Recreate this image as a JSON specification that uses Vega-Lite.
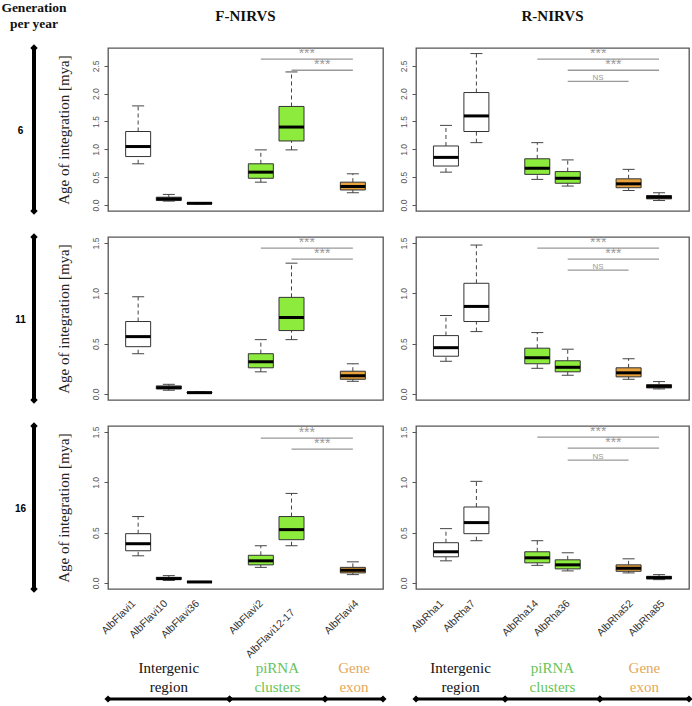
{
"$schema": "https://vega.github.io/schema/vega-lite/v6.json",
"background": "white",
"padding": {"left": 1, "top": 0, "right": 0, "bottom": 0},
"bounds": "flush",
"spacing": 100,
"datasets": {
"boxes": [
{"gen":6,"type":"F","name":"AlbFlavi1","grp":"Intergenic region","pos":1,"lo":0.74,"q1":0.87,"med":1.05,"q3":1.32,"hi":1.78},
{"gen":6,"type":"F","name":"AlbFlavi10","grp":"Intergenic region","pos":2,"lo":0.07,"q1":0.08,"med":0.11,"q3":0.14,"hi":0.19},
{"gen":6,"type":"F","name":"AlbFlavi36","grp":"Intergenic region","pos":3,"lo":0.02,"q1":0.025,"med":0.03,"q3":0.04,"hi":0.045},
{"gen":6,"type":"F","name":"AlbFlavi2","grp":"piRNA clusters","pos":5,"lo":0.41,"q1":0.48,"med":0.59,"q3":0.74,"hi":0.99},
{"gen":6,"type":"F","name":"AlbFlavi12-17","grp":"piRNA clusters","pos":6,"lo":0.99,"q1":1.15,"med":1.4,"q3":1.77,"hi":2.39},
{"gen":6,"type":"F","name":"AlbFlavi4","grp":"Gene exon","pos":8,"lo":0.22,"q1":0.27,"med":0.33,"q3":0.41,"hi":0.56},
{"gen":6,"type":"R","name":"AlbRha1","grp":"Intergenic region","pos":1,"lo":0.59,"q1":0.7,"med":0.855,"q3":1.06,"hi":1.43},
{"gen":6,"type":"R","name":"AlbRha7","grp":"Intergenic region","pos":2,"lo":1.12,"q1":1.32,"med":1.6,"q3":2.02,"hi":2.72},
{"gen":6,"type":"R","name":"AlbRha14","grp":"piRNA clusters","pos":4,"lo":0.46,"q1":0.55,"med":0.66,"q3":0.83,"hi":1.12},
{"gen":6,"type":"R","name":"AlbRha36","grp":"piRNA clusters","pos":5,"lo":0.34,"q1":0.39,"med":0.48,"q3":0.6,"hi":0.81},
{"gen":6,"type":"R","name":"AlbRha52","grp":"Gene exon","pos":7,"lo":0.26,"q1":0.31,"med":0.38,"q3":0.47,"hi":0.64},
{"gen":6,"type":"R","name":"AlbRha85","grp":"Gene exon","pos":8,"lo":0.08,"q1":0.11,"med":0.14,"q3":0.17,"hi":0.22},
{"gen":11,"type":"F","name":"AlbFlavi1","grp":"Intergenic region","pos":1,"lo":0.4,"q1":0.47,"med":0.57,"q3":0.72,"hi":0.966},
{"gen":11,"type":"F","name":"AlbFlavi10","grp":"Intergenic region","pos":2,"lo":0.037,"q1":0.05,"med":0.063,"q3":0.08,"hi":0.096},
{"gen":11,"type":"F","name":"AlbFlavi36","grp":"Intergenic region","pos":3,"lo":0.008,"q1":0.01,"med":0.013,"q3":0.018,"hi":0.02},
{"gen":11,"type":"F","name":"AlbFlavi2","grp":"piRNA clusters","pos":5,"lo":0.22,"q1":0.26,"med":0.32,"q3":0.4,"hi":0.54},
{"gen":11,"type":"F","name":"AlbFlavi12-17","grp":"piRNA clusters","pos":6,"lo":0.54,"q1":0.63,"med":0.76,"q3":0.96,"hi":1.3},
{"gen":11,"type":"F","name":"AlbFlavi4","grp":"Gene exon","pos":8,"lo":0.126,"q1":0.146,"med":0.18,"q3":0.226,"hi":0.3},
{"gen":11,"type":"R","name":"AlbRha1","grp":"Intergenic region","pos":1,"lo":0.325,"q1":0.375,"med":0.46,"q3":0.58,"hi":0.78},
{"gen":11,"type":"R","name":"AlbRha7","grp":"Intergenic region","pos":2,"lo":0.62,"q1":0.72,"med":0.87,"q3":1.1,"hi":1.48},
{"gen":11,"type":"R","name":"AlbRha14","grp":"piRNA clusters","pos":4,"lo":0.255,"q1":0.3,"med":0.36,"q3":0.455,"hi":0.61},
{"gen":11,"type":"R","name":"AlbRha36","grp":"piRNA clusters","pos":5,"lo":0.186,"q1":0.22,"med":0.265,"q3":0.33,"hi":0.445},
{"gen":11,"type":"R","name":"AlbRha52","grp":"Gene exon","pos":7,"lo":0.146,"q1":0.17,"med":0.21,"q3":0.26,"hi":0.35},
{"gen":11,"type":"R","name":"AlbRha85","grp":"Gene exon","pos":8,"lo":0.05,"q1":0.06,"med":0.076,"q3":0.093,"hi":0.123},
{"gen":16,"type":"F","name":"AlbFlavi1","grp":"Intergenic region","pos":1,"lo":0.27,"q1":0.32,"med":0.39,"q3":0.49,"hi":0.66},
{"gen":16,"type":"F","name":"AlbFlavi10","grp":"Intergenic region","pos":2,"lo":0.025,"q1":0.036,"med":0.043,"q3":0.056,"hi":0.073},
{"gen":16,"type":"F","name":"AlbFlavi36","grp":"Intergenic region","pos":3,"lo":0.006,"q1":0.008,"med":0.01,"q3":0.013,"hi":0.015},
{"gen":16,"type":"F","name":"AlbFlavi2","grp":"piRNA clusters","pos":5,"lo":0.155,"q1":0.18,"med":0.22,"q3":0.275,"hi":0.37},
{"gen":16,"type":"F","name":"AlbFlavi12-17","grp":"piRNA clusters","pos":6,"lo":0.37,"q1":0.43,"med":0.53,"q3":0.66,"hi":0.89},
{"gen":16,"type":"F","name":"AlbFlavi4","grp":"Gene exon","pos":8,"lo":0.083,"q1":0.1,"med":0.126,"q3":0.155,"hi":0.21},
{"gen":16,"type":"R","name":"AlbRha1","grp":"Intergenic region","pos":1,"lo":0.22,"q1":0.26,"med":0.31,"q3":0.4,"hi":0.54},
{"gen":16,"type":"R","name":"AlbRha7","grp":"Intergenic region","pos":2,"lo":0.42,"q1":0.49,"med":0.6,"q3":0.755,"hi":1.01},
{"gen":16,"type":"R","name":"AlbRha14","grp":"piRNA clusters","pos":4,"lo":0.175,"q1":0.2,"med":0.25,"q3":0.31,"hi":0.42},
{"gen":16,"type":"R","name":"AlbRha36","grp":"piRNA clusters","pos":5,"lo":0.12,"q1":0.14,"med":0.18,"q3":0.23,"hi":0.3},
{"gen":16,"type":"R","name":"AlbRha52","grp":"Gene exon","pos":7,"lo":0.1,"q1":0.116,"med":0.146,"q3":0.18,"hi":0.24},
{"gen":16,"type":"R","name":"AlbRha85","grp":"Gene exon","pos":8,"lo":0.033,"q1":0.04,"med":0.053,"q3":0.066,"hi":0.083}
],
"sig": [
{"gen":6,"type":"F","from":5,"to":8,"level":2.62,"label":"***"},
{"gen":6,"type":"F","from":6,"to":8,"level":2.42,"label":"***"},
{"gen":6,"type":"R","from":4,"to":8,"level":2.62,"label":"***"},
{"gen":6,"type":"R","from":5,"to":8,"level":2.42,"label":"***"},
{"gen":6,"type":"R","from":5,"to":7,"level":2.22,"label":"NS"},
{"gen":11,"type":"F","from":5,"to":8,"level":1.45,"label":"***"},
{"gen":11,"type":"F","from":6,"to":8,"level":1.34,"label":"***"},
{"gen":11,"type":"R","from":4,"to":8,"level":1.45,"label":"***"},
{"gen":11,"type":"R","from":5,"to":8,"level":1.34,"label":"***"},
{"gen":11,"type":"R","from":5,"to":7,"level":1.23,"label":"NS"},
{"gen":16,"type":"F","from":5,"to":8,"level":1.44,"label":"***"},
{"gen":16,"type":"F","from":6,"to":8,"level":1.33,"label":"***"},
{"gen":16,"type":"R","from":4,"to":8,"level":1.45,"label":"***"},
{"gen":16,"type":"R","from":5,"to":8,"level":1.34,"label":"***"},
{"gen":16,"type":"R","from":5,"to":7,"level":1.22,"label":"NS"}
],
"segs": [
{"type":"F","grp":"Intergenic region","from":0.18,"to":4},
{"type":"F","grp":"piRNA clusters","from":4,"to":7},
{"type":"F","grp":"Gene exon","from":7,"to":8.82},
{"type":"R","grp":"Intergenic region","from":0.18,"to":3},
{"type":"R","grp":"piRNA clusters","from":3,"to":6},
{"type":"R","grp":"Gene exon","from":6,"to":8.82}
],
"gens": [{"gen":"6"},{"gen":"11"},{"gen":"16"}]
},
"config": {
"font": "Liberation Sans",
"view": {"stroke": "#555", "strokeWidth": 1.3},
"title": {"font": "Liberation Serif", "fontWeight": "bold", "color": "#111", "anchor": "middle"},
"axisY": {"domain": false, "grid": false, "tickSize": 4, "tickColor": "#555", "tickWidth": 1, "labelAngle": 270, "labelAlign": "center", "labelBaseline": "bottom", "labelPadding": 4, "labelFontSize": 8.5, "labelColor": "#555", "labelFlush": false, "labelOverlap": false, "titleFont": "Liberation Serif", "titleFontSize": 15, "titleFontWeight": "normal", "titleColor": "#222", "titlePadding": 20}
},
"hconcat": [
{"vconcat": [
 {"width": 52, "height": 163, "view": {"stroke": null},
  "title": {"text": ["Generation", "per year"], "fontSize": 13.5, "offset": 14, "lineHeight": 16},
  "data": {"name": "gens"}, "transform": [{"filter": "datum.gen == '6'"}],
  "layer": [
   {"mark": {"type": "rule", "strokeWidth": 4, "color": "#000"}, "encoding": {"y": {"datum": 0, "type": "quantitative", "scale": {"domain": [0, 1], "nice": false, "zero": false}, "axis": null}, "y2": {"datum": 1}}},
   {"mark": {"type": "point", "shape": "diamond", "filled": true, "size": 55, "color": "#000", "opacity": 1}, "encoding": {"y": {"datum": 0, "type": "quantitative"}}},
   {"mark": {"type": "point", "shape": "diamond", "filled": true, "size": 55, "color": "#000", "opacity": 1}, "encoding": {"y": {"datum": 1, "type": "quantitative"}}},
   {"mark": {"type": "text", "fontWeight": "bold", "fontSize": 10, "dx": -13.5, "dy": 1, "color": "#000"}, "encoding": {"text": {"field": "gen"}}}
  ]},
 {"width": 52, "height": 163, "view": {"stroke": null},
  "data": {"name": "gens"}, "transform": [{"filter": "datum.gen == '11'"}],
  "layer": [
   {"mark": {"type": "rule", "strokeWidth": 4, "color": "#000"}, "encoding": {"y": {"datum": 0, "type": "quantitative", "scale": {"domain": [0, 1], "nice": false, "zero": false}, "axis": null}, "y2": {"datum": 1}}},
   {"mark": {"type": "point", "shape": "diamond", "filled": true, "size": 55, "color": "#000", "opacity": 1}, "encoding": {"y": {"datum": 0, "type": "quantitative"}}},
   {"mark": {"type": "point", "shape": "diamond", "filled": true, "size": 55, "color": "#000", "opacity": 1}, "encoding": {"y": {"datum": 1, "type": "quantitative"}}},
   {"mark": {"type": "text", "fontWeight": "bold", "fontSize": 10, "dx": -13.5, "dy": 1, "color": "#000"}, "encoding": {"text": {"field": "gen"}}}
  ]},
 {"width": 52, "height": 163, "view": {"stroke": null},
  "data": {"name": "gens"}, "transform": [{"filter": "datum.gen == '16'"}],
  "layer": [
   {"mark": {"type": "rule", "strokeWidth": 4, "color": "#000"}, "encoding": {"y": {"datum": 0, "type": "quantitative", "scale": {"domain": [0, 1], "nice": false, "zero": false}, "axis": null}, "y2": {"datum": 1}}},
   {"mark": {"type": "point", "shape": "diamond", "filled": true, "size": 55, "color": "#000", "opacity": 1}, "encoding": {"y": {"datum": 0, "type": "quantitative"}}},
   {"mark": {"type": "point", "shape": "diamond", "filled": true, "size": 55, "color": "#000", "opacity": 1}, "encoding": {"y": {"datum": 1, "type": "quantitative"}}},
   {"mark": {"type": "text", "fontWeight": "bold", "fontSize": 10, "dx": -13.5, "dy": 1, "color": "#000"}, "encoding": {"text": {"field": "gen"}}}
  ]}
], "spacing": 26, "bounds": "flush"},
{"concat": [
    {"width": 275, "height": 163,
     "title": {"text": "F-NIRVS", "fontSize": 15, "offset": 23},
     "data": {"name": "boxes"}, "transform": [{"filter": "datum.gen == 6 && datum.type == 'F'"}],
     "encoding": {"x": {"field": "pos", "type": "quantitative", "scale": {"domain": [0.18, 8.82], "nice": false, "zero": false}, "axis": null}},
     "layer": [
      {"mark": {"type": "rule", "color": "#444", "strokeDash": [4, 3]}, "encoding": {"y": {"field": "q3", "type": "quantitative", "scale": {"domain": [-0.108, 2.82], "nice": false, "zero": false}, "axis": {"values": [0, 0.5, 1, 1.5, 2, 2.5], "tickCount": 6, "format": ".1f", "labelOverlap": false, "title": "Age of integration [mya]"}}, "y2": {"field": "hi"}}},
      {"mark": {"type": "rule", "color": "#444", "strokeDash": [4, 3]}, "encoding": {"y": {"field": "lo", "type": "quantitative", "axis": {"values": [0, 0.5, 1, 1.5, 2, 2.5], "tickCount": 6, "format": ".1f", "labelOverlap": false, "title": "Age of integration [mya]"}}, "y2": {"field": "q1"}}},
      {"mark": {"type": "tick", "orient": "horizontal", "size": 12, "thickness": 1, "color": "#444", "opacity": 1}, "encoding": {"y": {"field": "hi", "type": "quantitative", "axis": {"values": [0, 0.5, 1, 1.5, 2, 2.5], "tickCount": 6, "format": ".1f", "labelOverlap": false, "title": "Age of integration [mya]"}}}},
      {"mark": {"type": "tick", "orient": "horizontal", "size": 12, "thickness": 1, "color": "#444", "opacity": 1}, "encoding": {"y": {"field": "lo", "type": "quantitative", "axis": {"values": [0, 0.5, 1, 1.5, 2, 2.5], "tickCount": 6, "format": ".1f", "labelOverlap": false, "title": "Age of integration [mya]"}}}},
      {"mark": {"type": "bar", "size": 25, "stroke": "#333", "strokeWidth": 1}, "encoding": {"y": {"field": "q1", "type": "quantitative", "axis": {"values": [0, 0.5, 1, 1.5, 2, 2.5], "tickCount": 6, "format": ".1f", "labelOverlap": false, "title": "Age of integration [mya]"}}, "y2": {"field": "q3"}, "fill": {"field": "grp", "type": "nominal", "scale": {"domain": ["Intergenic region", "piRNA clusters", "Gene exon"], "range": ["#ffffff", "#8CEB3C", "#E9A23B"]}, "legend": null}}},
      {"mark": {"type": "tick", "orient": "horizontal", "size": 25, "thickness": 3, "color": "#000", "opacity": 1}, "encoding": {"y": {"field": "med", "type": "quantitative", "axis": {"values": [0, 0.5, 1, 1.5, 2, 2.5], "tickCount": 6, "format": ".1f", "labelOverlap": false, "title": "Age of integration [mya]"}}}},
      {"data": {"name": "sig"}, "transform": [{"filter": "datum.gen == 6 && datum.type == 'F'"}], "mark": {"type": "rule", "color": "#999", "strokeWidth": 1.3}, "encoding": {"x": {"field": "from", "type": "quantitative"}, "x2": {"field": "to"}, "y": {"field": "level", "type": "quantitative", "axis": {"values": [0, 0.5, 1, 1.5, 2, 2.5], "tickCount": 6, "format": ".1f", "labelOverlap": false, "title": "Age of integration [mya]"}}}},
      {"data": {"name": "sig"}, "transform": [{"filter": "datum.gen == 6 && datum.type == 'F'"}, {"fold": ["from", "to"], "as": ["end", "at"]}], "mark": {"type": "text", "color": "#999", "baseline": "alphabetic", "dy": -1}, "encoding": {"x": {"field": "at", "aggregate": "mean", "type": "quantitative"}, "y": {"field": "level", "type": "quantitative", "axis": {"values": [0, 0.5, 1, 1.5, 2, 2.5], "tickCount": 6, "format": ".1f", "labelOverlap": false, "title": "Age of integration [mya]"}}, "text": {"field": "label"}, "size": {"condition": {"test": "datum.label == 'NS'", "value": 8}, "value": 14}}}
     ]},
    {"width": 273, "height": 163,
     "title": {"text": "R-NIRVS", "fontSize": 15, "offset": 23},
     "data": {"name": "boxes"}, "transform": [{"filter": "datum.gen == 6 && datum.type == 'R'"}],
     "encoding": {"x": {"field": "pos", "type": "quantitative", "scale": {"domain": [0.18, 8.82], "nice": false, "zero": false}, "axis": null}},
     "layer": [
      {"mark": {"type": "rule", "color": "#444", "strokeDash": [4, 3]}, "encoding": {"y": {"field": "q3", "type": "quantitative", "scale": {"domain": [-0.108, 2.82], "nice": false, "zero": false}, "axis": {"values": [0, 0.5, 1, 1.5, 2, 2.5], "tickCount": 6, "format": ".1f", "labelOverlap": false, "title": null}}, "y2": {"field": "hi"}}},
      {"mark": {"type": "rule", "color": "#444", "strokeDash": [4, 3]}, "encoding": {"y": {"field": "lo", "type": "quantitative", "axis": {"values": [0, 0.5, 1, 1.5, 2, 2.5], "tickCount": 6, "format": ".1f", "labelOverlap": false, "title": null}}, "y2": {"field": "q1"}}},
      {"mark": {"type": "tick", "orient": "horizontal", "size": 12, "thickness": 1, "color": "#444", "opacity": 1}, "encoding": {"y": {"field": "hi", "type": "quantitative", "axis": {"values": [0, 0.5, 1, 1.5, 2, 2.5], "tickCount": 6, "format": ".1f", "labelOverlap": false, "title": null}}}},
      {"mark": {"type": "tick", "orient": "horizontal", "size": 12, "thickness": 1, "color": "#444", "opacity": 1}, "encoding": {"y": {"field": "lo", "type": "quantitative", "axis": {"values": [0, 0.5, 1, 1.5, 2, 2.5], "tickCount": 6, "format": ".1f", "labelOverlap": false, "title": null}}}},
      {"mark": {"type": "bar", "size": 25, "stroke": "#333", "strokeWidth": 1}, "encoding": {"y": {"field": "q1", "type": "quantitative", "axis": {"values": [0, 0.5, 1, 1.5, 2, 2.5], "tickCount": 6, "format": ".1f", "labelOverlap": false, "title": null}}, "y2": {"field": "q3"}, "fill": {"field": "grp", "type": "nominal", "scale": {"domain": ["Intergenic region", "piRNA clusters", "Gene exon"], "range": ["#ffffff", "#8CEB3C", "#E9A23B"]}, "legend": null}}},
      {"mark": {"type": "tick", "orient": "horizontal", "size": 25, "thickness": 3, "color": "#000", "opacity": 1}, "encoding": {"y": {"field": "med", "type": "quantitative", "axis": {"values": [0, 0.5, 1, 1.5, 2, 2.5], "tickCount": 6, "format": ".1f", "labelOverlap": false, "title": null}}}},
      {"data": {"name": "sig"}, "transform": [{"filter": "datum.gen == 6 && datum.type == 'R'"}], "mark": {"type": "rule", "color": "#999", "strokeWidth": 1.3}, "encoding": {"x": {"field": "from", "type": "quantitative"}, "x2": {"field": "to"}, "y": {"field": "level", "type": "quantitative", "axis": {"values": [0, 0.5, 1, 1.5, 2, 2.5], "tickCount": 6, "format": ".1f", "labelOverlap": false, "title": null}}}},
      {"data": {"name": "sig"}, "transform": [{"filter": "datum.gen == 6 && datum.type == 'R'"}, {"fold": ["from", "to"], "as": ["end", "at"]}], "mark": {"type": "text", "color": "#999", "baseline": "alphabetic", "dy": -1}, "encoding": {"x": {"field": "at", "aggregate": "mean", "type": "quantitative"}, "y": {"field": "level", "type": "quantitative", "axis": {"values": [0, 0.5, 1, 1.5, 2, 2.5], "tickCount": 6, "format": ".1f", "labelOverlap": false, "title": null}}, "text": {"field": "label"}, "size": {"condition": {"test": "datum.label == 'NS'", "value": 8}, "value": 14}}}
     ]},
    {"width": 275, "height": 163,
     "data": {"name": "boxes"}, "transform": [{"filter": "datum.gen == 11 && datum.type == 'F'"}],
     "encoding": {"x": {"field": "pos", "type": "quantitative", "scale": {"domain": [0.18, 8.82], "nice": false, "zero": false}, "axis": null}},
     "layer": [
      {"mark": {"type": "rule", "color": "#444", "strokeDash": [4, 3]}, "encoding": {"y": {"field": "q3", "type": "quantitative", "scale": {"domain": [-0.06, 1.56], "nice": false, "zero": false}, "axis": {"values": [0, 0.5, 1, 1.5], "format": ".1f", "labelOverlap": false, "title": "Age of integration [mya]"}}, "y2": {"field": "hi"}}},
      {"mark": {"type": "rule", "color": "#444", "strokeDash": [4, 3]}, "encoding": {"y": {"field": "lo", "type": "quantitative"}, "y2": {"field": "q1"}}},
      {"mark": {"type": "tick", "orient": "horizontal", "size": 12, "thickness": 1, "color": "#444", "opacity": 1}, "encoding": {"y": {"field": "hi", "type": "quantitative"}}},
      {"mark": {"type": "tick", "orient": "horizontal", "size": 12, "thickness": 1, "color": "#444", "opacity": 1}, "encoding": {"y": {"field": "lo", "type": "quantitative"}}},
      {"mark": {"type": "bar", "size": 25, "stroke": "#333", "strokeWidth": 1}, "encoding": {"y": {"field": "q1", "type": "quantitative"}, "y2": {"field": "q3"}, "fill": {"field": "grp", "type": "nominal", "scale": {"domain": ["Intergenic region", "piRNA clusters", "Gene exon"], "range": ["#ffffff", "#8CEB3C", "#E9A23B"]}, "legend": null}}},
      {"mark": {"type": "tick", "orient": "horizontal", "size": 25, "thickness": 3, "color": "#000", "opacity": 1}, "encoding": {"y": {"field": "med", "type": "quantitative"}}},
      {"data": {"name": "sig"}, "transform": [{"filter": "datum.gen == 11 && datum.type == 'F'"}], "mark": {"type": "rule", "color": "#999", "strokeWidth": 1.3}, "encoding": {"x": {"field": "from", "type": "quantitative"}, "x2": {"field": "to"}, "y": {"field": "level", "type": "quantitative"}}},
      {"data": {"name": "sig"}, "transform": [{"filter": "datum.gen == 11 && datum.type == 'F'"}, {"fold": ["from", "to"], "as": ["end", "at"]}], "mark": {"type": "text", "color": "#999", "baseline": "alphabetic", "dy": -1}, "encoding": {"x": {"field": "at", "aggregate": "mean", "type": "quantitative"}, "y": {"field": "level", "type": "quantitative"}, "text": {"field": "label"}, "size": {"condition": {"test": "datum.label == 'NS'", "value": 8}, "value": 14}}}
     ]},
    {"width": 273, "height": 163,
     "data": {"name": "boxes"}, "transform": [{"filter": "datum.gen == 11 && datum.type == 'R'"}],
     "encoding": {"x": {"field": "pos", "type": "quantitative", "scale": {"domain": [0.18, 8.82], "nice": false, "zero": false}, "axis": null}},
     "layer": [
      {"mark": {"type": "rule", "color": "#444", "strokeDash": [4, 3]}, "encoding": {"y": {"field": "q3", "type": "quantitative", "scale": {"domain": [-0.06, 1.56], "nice": false, "zero": false}, "axis": {"values": [0, 0.5, 1, 1.5], "format": ".1f", "labelOverlap": false, "title": null}}, "y2": {"field": "hi"}}},
      {"mark": {"type": "rule", "color": "#444", "strokeDash": [4, 3]}, "encoding": {"y": {"field": "lo", "type": "quantitative"}, "y2": {"field": "q1"}}},
      {"mark": {"type": "tick", "orient": "horizontal", "size": 12, "thickness": 1, "color": "#444", "opacity": 1}, "encoding": {"y": {"field": "hi", "type": "quantitative"}}},
      {"mark": {"type": "tick", "orient": "horizontal", "size": 12, "thickness": 1, "color": "#444", "opacity": 1}, "encoding": {"y": {"field": "lo", "type": "quantitative"}}},
      {"mark": {"type": "bar", "size": 25, "stroke": "#333", "strokeWidth": 1}, "encoding": {"y": {"field": "q1", "type": "quantitative"}, "y2": {"field": "q3"}, "fill": {"field": "grp", "type": "nominal", "scale": {"domain": ["Intergenic region", "piRNA clusters", "Gene exon"], "range": ["#ffffff", "#8CEB3C", "#E9A23B"]}, "legend": null}}},
      {"mark": {"type": "tick", "orient": "horizontal", "size": 25, "thickness": 3, "color": "#000", "opacity": 1}, "encoding": {"y": {"field": "med", "type": "quantitative"}}},
      {"data": {"name": "sig"}, "transform": [{"filter": "datum.gen == 11 && datum.type == 'R'"}], "mark": {"type": "rule", "color": "#999", "strokeWidth": 1.3}, "encoding": {"x": {"field": "from", "type": "quantitative"}, "x2": {"field": "to"}, "y": {"field": "level", "type": "quantitative"}}},
      {"data": {"name": "sig"}, "transform": [{"filter": "datum.gen == 11 && datum.type == 'R'"}, {"fold": ["from", "to"], "as": ["end", "at"]}], "mark": {"type": "text", "color": "#999", "baseline": "alphabetic", "dy": -1}, "encoding": {"x": {"field": "at", "aggregate": "mean", "type": "quantitative"}, "y": {"field": "level", "type": "quantitative"}, "text": {"field": "label"}, "size": {"condition": {"test": "datum.label == 'NS'", "value": 8}, "value": 14}}}
     ]},
    {"width": 275, "height": 163,
     "data": {"name": "boxes"}, "transform": [{"filter": "datum.gen == 16 && datum.type == 'F'"}],
     "encoding": {"x": {"field": "pos", "type": "quantitative", "scale": {"domain": [0.18, 8.82], "nice": false, "zero": false}, "axis": null}},
     "layer": [
      {"mark": {"type": "rule", "color": "#444", "strokeDash": [4, 3]}, "encoding": {"y": {"field": "q3", "type": "quantitative", "scale": {"domain": [-0.06, 1.56], "nice": false, "zero": false}, "axis": {"values": [0, 0.5, 1, 1.5], "format": ".1f", "labelOverlap": false, "title": "Age of integration [mya]"}}, "y2": {"field": "hi"}}},
      {"mark": {"type": "rule", "color": "#444", "strokeDash": [4, 3]}, "encoding": {"y": {"field": "lo", "type": "quantitative"}, "y2": {"field": "q1"}}},
      {"mark": {"type": "tick", "orient": "horizontal", "size": 12, "thickness": 1, "color": "#444", "opacity": 1}, "encoding": {"y": {"field": "hi", "type": "quantitative"}}},
      {"mark": {"type": "tick", "orient": "horizontal", "size": 12, "thickness": 1, "color": "#444", "opacity": 1}, "encoding": {"y": {"field": "lo", "type": "quantitative"}}},
      {"mark": {"type": "bar", "size": 25, "stroke": "#333", "strokeWidth": 1}, "encoding": {"y": {"field": "q1", "type": "quantitative"}, "y2": {"field": "q3"}, "fill": {"field": "grp", "type": "nominal", "scale": {"domain": ["Intergenic region", "piRNA clusters", "Gene exon"], "range": ["#ffffff", "#8CEB3C", "#E9A23B"]}, "legend": null}}},
      {"mark": {"type": "tick", "orient": "horizontal", "size": 25, "thickness": 3, "color": "#000", "opacity": 1}, "encoding": {"y": {"field": "med", "type": "quantitative"}}},
      {"data": {"name": "sig"}, "transform": [{"filter": "datum.gen == 16 && datum.type == 'F'"}], "mark": {"type": "rule", "color": "#999", "strokeWidth": 1.3}, "encoding": {"x": {"field": "from", "type": "quantitative"}, "x2": {"field": "to"}, "y": {"field": "level", "type": "quantitative"}}},
      {"data": {"name": "sig"}, "transform": [{"filter": "datum.gen == 16 && datum.type == 'F'"}, {"fold": ["from", "to"], "as": ["end", "at"]}], "mark": {"type": "text", "color": "#999", "baseline": "alphabetic", "dy": -1}, "encoding": {"x": {"field": "at", "aggregate": "mean", "type": "quantitative"}, "y": {"field": "level", "type": "quantitative"}, "text": {"field": "label"}, "size": {"condition": {"test": "datum.label == 'NS'", "value": 8}, "value": 14}}}
     ]},
    {"width": 273, "height": 163,
     "data": {"name": "boxes"}, "transform": [{"filter": "datum.gen == 16 && datum.type == 'R'"}],
     "encoding": {"x": {"field": "pos", "type": "quantitative", "scale": {"domain": [0.18, 8.82], "nice": false, "zero": false}, "axis": null}},
     "layer": [
      {"mark": {"type": "rule", "color": "#444", "strokeDash": [4, 3]}, "encoding": {"y": {"field": "q3", "type": "quantitative", "scale": {"domain": [-0.06, 1.56], "nice": false, "zero": false}, "axis": {"values": [0, 0.5, 1, 1.5], "format": ".1f", "labelOverlap": false, "title": null}}, "y2": {"field": "hi"}}},
      {"mark": {"type": "rule", "color": "#444", "strokeDash": [4, 3]}, "encoding": {"y": {"field": "lo", "type": "quantitative"}, "y2": {"field": "q1"}}},
      {"mark": {"type": "tick", "orient": "horizontal", "size": 12, "thickness": 1, "color": "#444", "opacity": 1}, "encoding": {"y": {"field": "hi", "type": "quantitative"}}},
      {"mark": {"type": "tick", "orient": "horizontal", "size": 12, "thickness": 1, "color": "#444", "opacity": 1}, "encoding": {"y": {"field": "lo", "type": "quantitative"}}},
      {"mark": {"type": "bar", "size": 25, "stroke": "#333", "strokeWidth": 1}, "encoding": {"y": {"field": "q1", "type": "quantitative"}, "y2": {"field": "q3"}, "fill": {"field": "grp", "type": "nominal", "scale": {"domain": ["Intergenic region", "piRNA clusters", "Gene exon"], "range": ["#ffffff", "#8CEB3C", "#E9A23B"]}, "legend": null}}},
      {"mark": {"type": "tick", "orient": "horizontal", "size": 25, "thickness": 3, "color": "#000", "opacity": 1}, "encoding": {"y": {"field": "med", "type": "quantitative"}}},
      {"data": {"name": "sig"}, "transform": [{"filter": "datum.gen == 16 && datum.type == 'R'"}], "mark": {"type": "rule", "color": "#999", "strokeWidth": 1.3}, "encoding": {"x": {"field": "from", "type": "quantitative"}, "x2": {"field": "to"}, "y": {"field": "level", "type": "quantitative"}}},
      {"data": {"name": "sig"}, "transform": [{"filter": "datum.gen == 16 && datum.type == 'R'"}, {"fold": ["from", "to"], "as": ["end", "at"]}], "mark": {"type": "text", "color": "#999", "baseline": "alphabetic", "dy": -1}, "encoding": {"x": {"field": "at", "aggregate": "mean", "type": "quantitative"}, "y": {"field": "level", "type": "quantitative"}, "text": {"field": "label"}, "size": {"condition": {"test": "datum.label == 'NS'", "value": 8}, "value": 14}}}
     ]},
   {"width": 275, "height": 51, "view": {"stroke": null},
    "data": {"name": "boxes"}, "transform": [{"filter": "datum.gen == 16 && datum.type == 'F'"}],
    "encoding": {"x": {"field": "pos", "type": "quantitative", "scale": {"domain": [0.18, 8.82], "nice": false, "zero": false}, "axis": null}, "text": {"field": "name"}},
    "layer": [
     {"transform": [{"filter": "datum.name != 'AlbFlavi12-17'"}], "mark": {"type": "text", "angle": 315, "align": "right", "baseline": "middle", "fontSize": 10.5, "color": "#333", "radius": 38.5, "theta": 0}},
     {"transform": [{"filter": "datum.name == 'AlbFlavi12-17'"}], "mark": {"type": "text", "angle": 315, "align": "right", "baseline": "middle", "fontSize": 10.5, "color": "#333", "radius": 29.5, "theta": 0}}
    ]},
   {"width": 273, "height": 51, "view": {"stroke": null},
    "data": {"name": "boxes"}, "transform": [{"filter": "datum.gen == 16 && datum.type == 'R'"}],
    "mark": {"type": "text", "angle": 315, "align": "right", "baseline": "middle", "fontSize": 10.5, "color": "#333", "radius": 38.5, "theta": 0},
    "encoding": {"x": {"field": "pos", "type": "quantitative", "scale": {"domain": [0.18, 8.82], "nice": false, "zero": false}, "axis": null}, "text": {"field": "name"}}},
  {"width": 275, "height": 14, "view": {"stroke": null},
   "data": {"name": "segs"}, "transform": [{"filter": "datum.type == 'F'"}],
   "layer": [
    {"mark": {"type": "rule", "strokeWidth": 3, "color": "#000"}, "encoding": {"x": {"field": "from", "type": "quantitative", "scale": {"domain": [0.18, 8.82], "nice": false, "zero": false}, "axis": null}, "x2": {"field": "to"}}},
    {"mark": {"type": "point", "shape": "diamond", "filled": true, "size": 50, "color": "#000", "opacity": 1}, "encoding": {"x": {"field": "from", "type": "quantitative"}}},
    {"mark": {"type": "point", "shape": "diamond", "filled": true, "size": 50, "color": "#000", "opacity": 1}, "encoding": {"x": {"field": "to", "type": "quantitative"}}},
    {"transform": [{"fold": ["from", "to"], "as": ["end", "at"]}], "mark": {"type": "text", "font": "Liberation Serif", "fontSize": 15, "lineBreak": " ", "lineHeight": 19, "baseline": "middle", "dy": -31.5}, "encoding": {"x": {"field": "at", "aggregate": "mean", "type": "quantitative"}, "text": {"field": "grp"}, "color": {"field": "grp", "type": "nominal", "scale": {"domain": ["Intergenic region", "piRNA clusters", "Gene exon"], "range": ["#111111", "#66C45A", "#E3A85A"]}, "legend": null}}}
   ]},
  {"width": 273, "height": 14, "view": {"stroke": null},
   "data": {"name": "segs"}, "transform": [{"filter": "datum.type == 'R'"}],
   "layer": [
    {"mark": {"type": "rule", "strokeWidth": 3, "color": "#000"}, "encoding": {"x": {"field": "from", "type": "quantitative", "scale": {"domain": [0.18, 8.82], "nice": false, "zero": false}, "axis": null}, "x2": {"field": "to"}}},
    {"mark": {"type": "point", "shape": "diamond", "filled": true, "size": 50, "color": "#000", "opacity": 1}, "encoding": {"x": {"field": "from", "type": "quantitative"}}},
    {"mark": {"type": "point", "shape": "diamond", "filled": true, "size": 50, "color": "#000", "opacity": 1}, "encoding": {"x": {"field": "to", "type": "quantitative"}}},
    {"transform": [{"fold": ["from", "to"], "as": ["end", "at"]}], "mark": {"type": "text", "font": "Liberation Serif", "fontSize": 15, "lineBreak": " ", "lineHeight": 19, "baseline": "middle", "dy": -31.5}, "encoding": {"x": {"field": "at", "aggregate": "mean", "type": "quantitative"}, "text": {"field": "grp"}, "color": {"field": "grp", "type": "nominal", "scale": {"domain": ["Intergenic region", "piRNA clusters", "Gene exon"], "range": ["#111111", "#66C45A", "#E3A85A"]}, "legend": null}}}
   ]}
], "columns": 2, "align": "each", "spacing": {"row": 26, "column": 33}, "bounds": "flush"}
]
}
